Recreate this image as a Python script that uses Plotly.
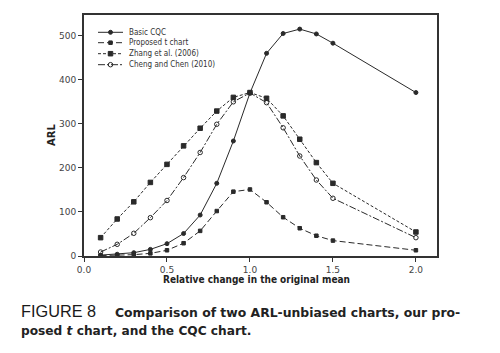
import plotly.graph_objects as go

# ---- data ----
shift = [0.1, 0.2, 0.3, 0.4, 0.5, 0.6, 0.7, 0.8, 0.9, 1.0, 1.1, 1.2, 1.3, 1.4, 1.5, 2.0]
basic_cqc = [2, 4, 7.5, 15, 28, 51, 93, 165, 261, 370, 460, 505, 515, 504, 483, 371]
proposed_t = [1, 1.5, 3, 6, 13, 29, 57, 102, 146, 151, 122, 88, 63, 46, 35, 13]
zhang = [41.6, 84, 123, 167, 208, 250, 290, 329, 360, 371, 358, 318, 265, 212, 165, 54.5]
cheng = [9, 26.5, 51.5, 87, 126, 178, 235, 299, 350, 370, 348, 291, 227, 172.5, 131, 41.6]

series_names = ["Basic CQC", "Proposed t chart", "Zhang et al. (2006)", "Cheng and Chen (2010)"]
x_ticks = [0.0, 0.5, 1.0, 1.5, 2.0]
x_tick_text = ["0.0", "0.5", "1.0", "1.5", "2.0"]
y_ticks = [0, 100, 200, 300, 400, 500]

W, H = 500, 353
L, R, T, B = 84, 63, 15, 97
PW, PH = W - L - R, H - T - B

def px(x):
    return (x - L) / PW

def py(y):
    return (H - B - y) / PH

INK = "#2a2a2a"
styles = [
    dict(dash="solid", symbol="circle", size=4, fill=INK),
    dict(dash="6px,3px", symbol="square", size=3.5, fill=INK),
    dict(dash="3px,2px", symbol="square", size=4.5, fill=INK),
    dict(dash="7px,2px,2px,2px", symbol="circle-open", size=4.5, fill=INK),
]
values = [basic_cqc, proposed_t, zhang, cheng]

fig = go.Figure()
for name, vals, st in zip(series_names, values, styles):
    fig.add_trace(go.Scatter(
        x=shift, y=vals, mode="lines+markers", name=name, showlegend=False,
        line=dict(color=INK, width=1, dash=st["dash"]),
        marker=dict(symbol=st["symbol"], size=st["size"], color=st["fill"],
                    line=dict(color=INK, width=1)),
        cliponaxis=False,
    ))

# custom compact legend drawn on an overlay axis (0..1 fractions of plot area)
leg_rows_px = [32.3, 42.7, 53.7, 64.7]
lx0, lx1 = px(98), px(123)
for i, (name, st) in enumerate(zip(series_names, styles)):
    yy = py(leg_rows_px[i])
    fig.add_trace(go.Scatter(
        x=[lx0, (lx0 + lx1) / 2, lx1], y=[yy, yy, yy], xaxis="x2", yaxis="y2",
        mode="lines", showlegend=False, hoverinfo="skip",
        line=dict(color=INK, width=1, dash=st["dash"]),
    ))
    fig.add_trace(go.Scatter(
        x=[(lx0 + lx1) / 2], y=[yy], xaxis="x2", yaxis="y2",
        mode="markers", showlegend=False, hoverinfo="skip",
        marker=dict(symbol=st["symbol"], size=st["size"], color=st["fill"],
                    line=dict(color=INK, width=1)),
    ))
    fig.add_annotation(x=px(126.5), y=yy, xref="paper", yref="paper",
                       text=name, showarrow=False, xanchor="left", yanchor="middle",
                       font=dict(family="DejaVu Sans Condensed, DejaVu Sans", size=8, color="#333"))

axis_font = dict(family="DejaVu Sans", size=9, color="#444")
fig.update_layout(
    width=W, height=H,
    margin=dict(l=L, r=R, t=T, b=B),
    paper_bgcolor="white", plot_bgcolor="white",
    xaxis=dict(range=[0, 2.127], tickvals=x_ticks, ticktext=x_tick_text,
               showgrid=False, zeroline=False, showline=True, mirror=True,
               linecolor="#333", linewidth=2, ticks="outside", ticklen=4,
               tickcolor="#333", tickfont=axis_font),
    yaxis=dict(range=[0, 547], tickvals=y_ticks,
               showgrid=False, zeroline=False, showline=True, mirror=True,
               linecolor="#333", linewidth=2, ticks="outside", ticklen=4,
               tickcolor="#333", tickfont=axis_font),
    xaxis2=dict(overlaying="x", range=[0, 1], visible=False),
    yaxis2=dict(overlaying="y", range=[0, 1], visible=False),
)

# axis titles
fig.add_annotation(x=px(256), y=py(279), xref="paper", yref="paper",
                   text="<b>Relative change in the original mean</b>", showarrow=False,
                   xanchor="center", yanchor="middle",
                   font=dict(family="DejaVu Sans Condensed, DejaVu Sans", size=10, color="#222"))
fig.add_annotation(x=px(51), y=py(135), xref="paper", yref="paper",
                   text="<b>ARL</b>", showarrow=False, textangle=-90,
                   xanchor="center", yanchor="middle",
                   font=dict(family="DejaVu Sans", size=10, color="#222"))

# caption
cap_font = "Liberation Sans, Arial, sans-serif"
fig.add_annotation(x=px(19), y=py(311), xref="paper", yref="paper",
                   text="FIGURE 8", showarrow=False, xanchor="left", yanchor="middle",
                   font=dict(family=cap_font, size=16.3, color="#1a1a1a"))
fig.add_annotation(x=px(113), y=py(312), xref="paper", yref="paper",
                   text="<b>Comparison of two ARL-unbiased charts, our pro-</b>", showarrow=False,
                   xanchor="left", yanchor="middle",
                   font=dict(family="DejaVu Sans", size=12.4, color="#222"))
fig.add_annotation(x=px(19), y=py(331), xref="paper", yref="paper",
                   text="<b>posed <i>t</i> chart, and the CQC chart.</b>", showarrow=False,
                   xanchor="left", yanchor="middle",
                   font=dict(family="DejaVu Sans", size=12.2, color="#222"))

fig.write_html("out.html")
